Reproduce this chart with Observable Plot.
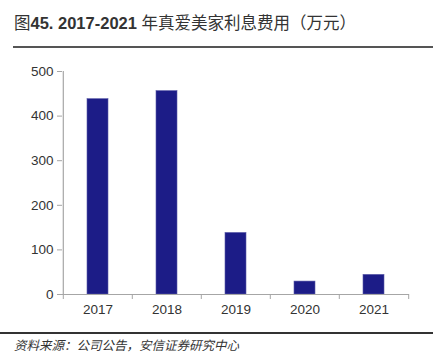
<!DOCTYPE html>
<html><head><meta charset="utf-8">
<script src="https://cdn.jsdelivr.net/npm/d3@7"></script>
<script src="https://cdn.jsdelivr.net/npm/@observablehq/plot@0.6"></script>
<style>
body{margin:0;background:#fff;width:445px;height:358px;position:relative;overflow:hidden;font-family:"Liberation Sans","Noto Sans CJK SC",sans-serif;}
#title{position:absolute;left:14px;top:10px;font-size:16.5px;color:#333;white-space:nowrap;}
#title b{font-weight:bold;}
#title span{font-weight:normal;}
#tline{position:absolute;left:13px;top:46px;width:420px;height:2px;background:#555;}
#chart{position:absolute;left:0;top:52px;}
#fline{position:absolute;left:0;top:332px;width:433px;height:1.5px;background:#333;}
#cap{position:absolute;left:14px;top:335px;font-size:12.5px;font-style:italic;color:#333;white-space:nowrap;font-family:"Noto Sans CJK SC",sans-serif;}
</style></head>
<body>
<div id="title"><span>图</span><b>45. 2017-2021</b> <span>年真爱美家利息费用（万元）</span></div>
<div id="tline"></div>
<div id="chart"></div>
<div id="fline"></div>
<div id="cap">资料来源：公司公告，安信证券研究中心</div>
<script>
const years = ["2017","2018","2019","2020","2021"];
const values = [438, 456, 138, 29, 44];
const yTicks = [0,100,200,300,400,500];

const W = 445, H = 280, ML = 62, MR = 36, MT = 19, MB = 38;
const step = (W - ML - MR) / years.length;
const data = years.map((y,i)=>({year:y, value:values[i]}));
const axisColor = "#a6a6a6";

const chart = Plot.plot({
  width: W, height: H,
  marginLeft: ML, marginRight: MR, marginTop: MT, marginBottom: MB,
  style: {fontFamily: "Liberation Sans, Arial, sans-serif", fontSize: "13px", color: "#333", background: "white"},
  x: {domain: years, paddingInner: 0.7, paddingOuter: 0.35, label: null},
  y: {domain: [0, 500], label: null},
  marks: [
    Plot.barY(data, {x: "year", y: "value", fill: "#1c1c87", stroke: "#5a5aa8", strokeWidth: 0.6}),
    Plot.ruleY([0], {stroke: axisColor, strokeWidth: 1.2}),
    Plot.ruleX([years[0]], {dx: -step/2, y1: 0, y2: 500, stroke: axisColor, strokeWidth: 1.2}),
    Plot.ruleX(years, {dx: -step/2, y1: 0, y2: 0, insetBottom: -5, stroke: axisColor}),
    Plot.ruleX([years[years.length-1]], {dx: step/2, y1: 0, y2: 0, insetBottom: -5, stroke: axisColor}),
    Plot.axisY({ticks: yTicks, tickSize: 5, tickPadding: 4, stroke: axisColor, fill: "#333", fontSize: 13.5, label: null}),
    Plot.axisX({tickSize: 0, tickPadding: 10, fill: "#333", fontSize: 13.5, label: null})
  ]
});
document.getElementById("chart").appendChild(chart);
</script>
</body></html>
